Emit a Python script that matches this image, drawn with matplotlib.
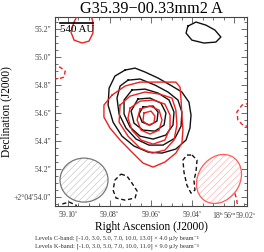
import numpy as np
import matplotlib
matplotlib.use("Agg")
import matplotlib.pyplot as plt
from matplotlib.patches import Ellipse
from matplotlib.ticker import AutoMinorLocator

plt.rcParams["font.family"] = ["Liberation Serif", "DejaVu Serif"]
plt.rcParams["mathtext.fontset"] = "stix"
plt.rcParams["hatch.linewidth"] = 0.5

# reference position 18h56m59.06s +2d04'54.6"
RA0 = 59.06
DEC0_DEG = 2.0 + 4 / 60 + 54.6 / 3600
COSD = np.cos(np.deg2rad(DEC0_DEG))

# RA in seconds (of 18h56m), Dec in arcsec (of +2d04')
# C-band (black) positive contours: 3, 5, 7, 10, 13 sigma
cband_3_ra = [59.0725, 59.0677, 59.0629, 59.0566, 59.0499, 59.0451, 59.0417, 59.0407, 59.0412, 59.0431,
              59.0480, 59.0547, 59.0614, 59.0682, 59.0740, 59.0783, 59.0807, 59.0802, 59.0774, 59.0725]
cband_3_dec = [54.907, 54.921, 54.893, 54.850, 54.793, 54.750, 54.678, 54.585, 54.493, 54.407,
               54.343, 54.314, 54.321, 54.364, 54.435, 54.535, 54.657, 54.778, 54.864, 54.907]
cband_5_ra = [59.0711, 59.0653, 59.0581, 59.0518, 59.0470, 59.0451, 59.0455, 59.0484, 59.0542, 59.0610,
              59.0672, 59.0721, 59.0754, 59.0764, 59.0749, 59.0711]
cband_5_dec = [54.835, 54.843, 54.800, 54.750, 54.693, 54.607, 54.507, 54.421, 54.371, 54.371,
               54.414, 54.493, 54.593, 54.707, 54.793, 54.835]
cband_7_ra = [59.0692, 59.0629, 59.0566, 59.0513, 59.0489, 59.0494, 59.0528, 59.0590, 59.0653, 59.0701,
              59.0730, 59.0730, 59.0692]
cband_7_dec = [54.764, 54.771, 54.743, 54.693, 54.607, 54.514, 54.443, 54.414, 54.435, 54.500,
               54.593, 54.693, 54.764]
cband_10_ra = [59.0663, 59.0605, 59.0552, 59.0528, 59.0537, 59.0581, 59.0639, 59.0682, 59.0696, 59.0663]
cband_10_dec = [54.700, 54.707, 54.671, 54.600, 54.514, 54.471, 54.478, 54.528, 54.614, 54.700]
cband_13_ra = [59.0639, 59.0590, 59.0566, 59.0571, 59.0605, 59.0643, 59.0658, 59.0639]
cband_13_dec = [54.643, 54.650, 54.607, 54.543, 54.514, 54.535, 54.593, 54.643]
cband_ne_ra = [59.0422, 59.0383, 59.0335, 59.0292, 59.0263, 59.0287, 59.0345, 59.0403, 59.0431, 59.0422]
cband_ne_dec = [55.221, 55.250, 55.228, 55.193, 55.143, 55.107, 55.100, 55.121, 55.171, 55.221]
# C-band negative (-1 sigma)
cband_neg1_ra = [59.0745, 59.0716, 59.0692, 59.0667, 59.0677, 59.0725, 59.0769, 59.0783, 59.0774, 59.0745]
cband_neg1_dec = [54.164, 54.150, 54.100, 54.043, 53.993, 53.978, 53.993, 54.050, 54.121, 54.164]
cband_neg2_ra = [59.0402, 59.0378, 59.0383, 59.0393, 59.0388, 59.0407, 59.0427, 59.0441, 59.0446, 59.0427, 59.0402]
cband_neg2_dec = [54.300, 54.264, 54.178, 54.121, 54.050, 54.028, 54.085, 54.178, 54.264, 54.300, 54.300]
cband_neg3_ra = [59.1043, 59.1029, 59.0995, 59.0962, 59.0952]
cband_neg3_dec = [53.907, 53.950, 53.964, 53.943, 53.907]

# K-band (red) positive contours: 3, 5, 7, 10, 11 sigma
kband_3_ra = [59.0788, 59.0725, 59.0653, 59.0557, 59.0480, 59.0460, 59.0455, 59.0451, 59.0446, 59.0451,
              59.0480, 59.0533, 59.0590, 59.0639, 59.0692, 59.0749, 59.0798, 59.0827, 59.0827, 59.0788]
kband_3_dec = [54.728, 54.793, 54.821, 54.821, 54.821, 54.785, 54.693, 54.585, 54.478, 54.385,
               54.314, 54.250, 54.214, 54.243, 54.321, 54.407, 54.493, 54.571, 54.657, 54.728]
kband_5_ra = [59.0749, 59.0701, 59.0629, 59.0557, 59.0499, 59.0480, 59.0475, 59.0489, 59.0533, 59.0595,
              59.0653, 59.0711, 59.0754, 59.0749]
kband_5_dec = [54.657, 54.721, 54.750, 54.735, 54.707, 54.621, 54.514, 54.407, 54.335, 54.314,
               54.350, 54.435, 54.535, 54.657]
kband_7_ra = [59.0701, 59.0653, 59.0590, 59.0533, 59.0508, 59.0508, 59.0533, 59.0590, 59.0648, 59.0692,
              59.0711, 59.0701]
kband_7_dec = [54.635, 54.685, 54.693, 54.664, 54.585, 54.493, 54.407, 54.378, 54.407, 54.478,
               54.564, 54.635]
kband_10_ra = [59.0653, 59.0605, 59.0561, 59.0547, 59.0561, 59.0605, 59.0648, 59.0667, 59.0653]
kband_10_dec = [54.628, 54.650, 54.621, 54.550, 54.478, 54.450, 54.478, 54.550, 54.628]
kband_11_ra = [59.0634, 59.0600, 59.0581, 59.0586, 59.0614, 59.0639, 59.0634]
kband_11_dec = [54.600, 54.614, 54.578, 54.528, 54.514, 54.543, 54.600]
kband_nw_ra = [59.0947, 59.0971, 59.0986, 59.0971, 59.0932, 59.0899, 59.0880, 59.0880, 59.0894]
kband_nw_dec = [55.321, 55.250, 55.178, 55.121, 55.100, 55.114, 55.171, 55.250, 55.321]
# K-band negative (-1 sigma)
kband_neg1_ra = [59.1077, 59.1039, 59.1014, 59.1019, 59.1048, 59.1077]
kband_neg1_dec = [54.921, 54.928, 54.900, 54.857, 54.843, 54.850]
kband_neg2_ra = [59.0123, 59.0161, 59.0186, 59.0181, 59.0157, 59.0123]
kband_neg2_dec = [54.671, 54.657, 54.607, 54.550, 54.514, 54.500]
kband_neg3_ra = [59.0306, 59.0296, 59.0272, 59.0229, 59.0200, 59.0186, 59.0181]
kband_neg3_dec = [53.907, 53.978, 54.050, 54.078, 54.050, 53.978, 53.907]

# beams: centre RA (s), Dec ("), major ("), minor ("), angle (deg, data frame)
cband_beam = (59.0923, 54.121, 0.347, 0.314, 0.0)
kband_beam = (59.0272, 54.129, 0.372, 0.300, 125.0)

scalebar_au = 540
distance_pc = 2265
scalebar_start = (59.1039, 55.2425)

ra_lim = (59.1063, 59.0137)
dec_lim = (53.936, 55.286)
x_ticks_ra = [59.10, 59.08, 59.06, 59.04, 59.02]
x_tick_labels = [r"59.10$^{\rm s}$", r"59.08$^{\rm s}$", r"59.06$^{\rm s}$", r"59.04$^{\rm s}$",
                 r"18$^{\rm h}$56$^{\rm m}$59.02$^{\rm s}$"]
y_ticks_dec = [54.0, 54.2, 54.4, 54.6, 54.8, 55.0, 55.2]
y_tick_labels = ["+2°04′54.0″", "54.2″", "54.4″", "54.6″", "54.8″", "55.0″", "55.2″"]
levels_c = "Levels C-band: [-1.0, 3.0, 5.0, 7.0, 10.0, 13.0] \u00d7 4.0 \u03bcJy beam\u207b\u00b9"
levels_k = "Levels K-band: [-1.0, 3.0, 5.0, 7.0, 10.0, 11.0] \u00d7 9.0 \u03bcJy beam\u207b\u00b9"


def ra_to_x(ra):
    return (np.asarray(ra) - RA0) * 15.0 * COSD


fig = plt.figure(figsize=(2.64, 2.52), dpi=100)
ax = fig.add_axes([55 / 264, 46 / 252, 192 / 264, 189 / 252])

black_pos = [(cband_3_ra, cband_3_dec), (cband_5_ra, cband_5_dec), (cband_7_ra, cband_7_dec),
             (cband_10_ra, cband_10_dec), (cband_13_ra, cband_13_dec), (cband_ne_ra, cband_ne_dec)]
black_neg = [(cband_neg1_ra, cband_neg1_dec), (cband_neg2_ra, cband_neg2_dec),
             (cband_neg3_ra, cband_neg3_dec)]
red_pos = [(kband_3_ra, kband_3_dec), (kband_5_ra, kband_5_dec), (kband_7_ra, kband_7_dec),
           (kband_10_ra, kband_10_dec), (kband_11_ra, kband_11_dec), (kband_nw_ra, kband_nw_dec)]
red_neg = [(kband_neg1_ra, kband_neg1_dec), (kband_neg2_ra, kband_neg2_dec),
           (kband_neg3_ra, kband_neg3_dec)]

red = "#f02020"
for ra, dec in black_pos:
    ax.plot(ra_to_x(ra), dec, color="#111111", lw=1.0, solid_joinstyle="round", zorder=3)
for ra, dec in black_neg:
    ax.plot(ra_to_x(ra), dec, color="#111111", lw=1.0, ls=(0, (3, 2)), zorder=3)
for ra, dec in red_pos:
    ax.plot(ra_to_x(ra), dec, color=red, lw=1.0, solid_joinstyle="round", zorder=4)
for ra, dec in red_neg:
    ax.plot(ra_to_x(ra), dec, color=red, lw=1.0, ls=(0, (3, 2)), zorder=4)

# beams
for beam, hatch_col, edge_col in [(cband_beam, "#c8c8c8", "#777777"), (kband_beam, "#ffb4b4", "#ff5a5a")]:
    bra, bdec, bmaj, bmin, bang = beam
    xy = (float(ra_to_x(bra)), bdec)
    ax.add_patch(Ellipse(xy, bmaj, bmin, angle=bang, facecolor="white", edgecolor=hatch_col,
                         hatch="/////", lw=0, zorder=5))
    ax.add_patch(Ellipse(xy, bmaj, bmin, angle=bang, facecolor="none", edgecolor=edge_col,
                         lw=0.9, zorder=6))

# scale bar
sb_len = scalebar_au / distance_pc
x0 = float(ra_to_x(scalebar_start[0]))
ax.plot([x0, x0 - sb_len], [scalebar_start[1]] * 2, color="black", lw=1.2, zorder=7)
ax.text(x0, scalebar_start[1] - 0.012, f"{scalebar_au} AU", fontsize=7.9, ha="left", va="top", zorder=7)

ax.set_xlim(ra_to_x(ra_lim[0]), ra_to_x(ra_lim[1]))
ax.set_ylim(*dec_lim)
ax.set_xticks(ra_to_x(x_ticks_ra))
ax.set_xticklabels(x_tick_labels)
ax.set_yticks(y_ticks_dec)
ax.set_yticklabels(y_tick_labels)
ax.xaxis.set_minor_locator(AutoMinorLocator(4))
ax.yaxis.set_minor_locator(AutoMinorLocator(4))
ax.tick_params(which="both", direction="in", top=True, right=True, colors="#555555",
               labelsize=5.6, labelcolor="#444444", width=0.6)
ax.tick_params(which="major", length=4, pad=2.5)
ax.tick_params(which="minor", length=2)
for sp in ax.spines.values():
    sp.set_color("#444444")
    sp.set_linewidth(0.8)

ax.set_title("G35.39\u221200.33mm2 A", fontsize=11.7, pad=3)
ax.set_xlabel("Right Ascension (J2000)", fontsize=8.3, labelpad=0)
ax.set_ylabel("Declination (J2000)", fontsize=8.3, labelpad=1)

fig.text(35 / 264, 1 - 238 / 252, levels_c, fontsize=4.6, ha="left", va="center", color="#333333")
fig.text(35 / 264, 1 - 246.5 / 252, levels_k, fontsize=4.6, ha="left", va="center", color="#333333")

fig.savefig("out.png", dpi=100)
